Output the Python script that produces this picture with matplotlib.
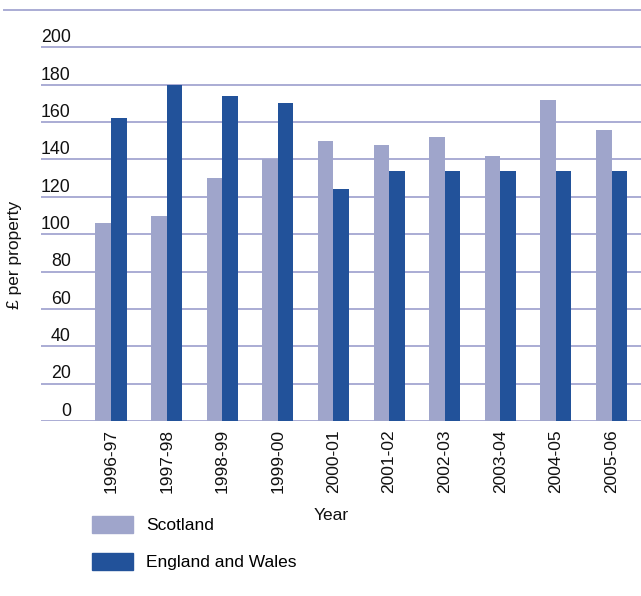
import matplotlib
matplotlib.use("Agg")
import matplotlib.pyplot as plt
from matplotlib.lines import Line2D
from matplotlib.patches import Patch
import numpy as np

plt.rcParams['font.family'] = ['Liberation Sans', 'DejaVu Sans']

years = ["1996-97", "1997-98", "1998-99", "1999-00", "2000-01",
         "2001-02", "2002-03", "2003-04", "2004-05", "2005-06"]
scotland = [106, 110, 130, 140, 150, 148, 152, 142, 172, 156]
england_wales = [162, 180, 174, 170, 124, 134, 134, 134, 134, 134]
y_ticks = [0, 20, 40, 60, 80, 100, 120, 140, 160, 180, 200]

C_SCOT = "#9fa5cb"
C_EW = "#22529a"
C_GRID = "#aaacd4"

W, H = 641, 596
fig = plt.figure(figsize=(W / 100, H / 100), dpi=100)
ax = fig.add_axes([41 / W, (H - 421) / H, 600 / W, (421 - 10) / H])

x = np.arange(len(years))
bw = 0.28
ax.bar(x - bw / 2, scotland, bw, color=C_SCOT, zorder=3)
ax.bar(x + bw / 2, england_wales, bw, color=C_EW, zorder=3)

ax.set_xlim(-1.26, 9.53)
ax.set_ylim(0, 220)

for v in y_ticks:
    ax.axhline(v, color=C_GRID, lw=1.4, zorder=1)
    ax.annotate(str(v), xy=(0, v), xycoords=('axes fraction', 'data'),
                xytext=(21.5, 7), textcoords='offset points',
                ha='right', va='center', fontsize=12.8, color='#111111')

# top frame line across the figure
fig.add_artist(Line2D([4 / W, 1], [(H - 10) / H, (H - 10) / H],
                      color=C_GRID, lw=1.4))

for s in ax.spines.values():
    s.set_visible(False)
ax.set_yticks([])
ax.set_xticks(x)
ax.set_xticklabels(years, rotation=90, fontsize=12.5, color='#111111')
ax.tick_params(axis='x', length=0, pad=6)

fig.text(15 / W, 1 - 255 / H, "£ per property", rotation=90,
         ha='center', va='center', fontsize=12.5, color='#111111')
fig.text(331 / W, 1 - 515 / H, "Year", ha='center', va='center',
         fontsize=12.5, color='#111111')

handles = [Patch(color=C_SCOT, label="Scotland"),
           Patch(color=C_EW, label="England and Wales")]
fig.legend(handles=handles, loc='upper left',
           bbox_to_anchor=(92 / W, 1 - 516 / H), frameon=False,
           fontsize=12.5, handlelength=2.36, handleheight=1.15,
           handletextpad=0.75, labelspacing=1.1, borderaxespad=0,
           borderpad=0)

fig.savefig("out.png", dpi=100)
